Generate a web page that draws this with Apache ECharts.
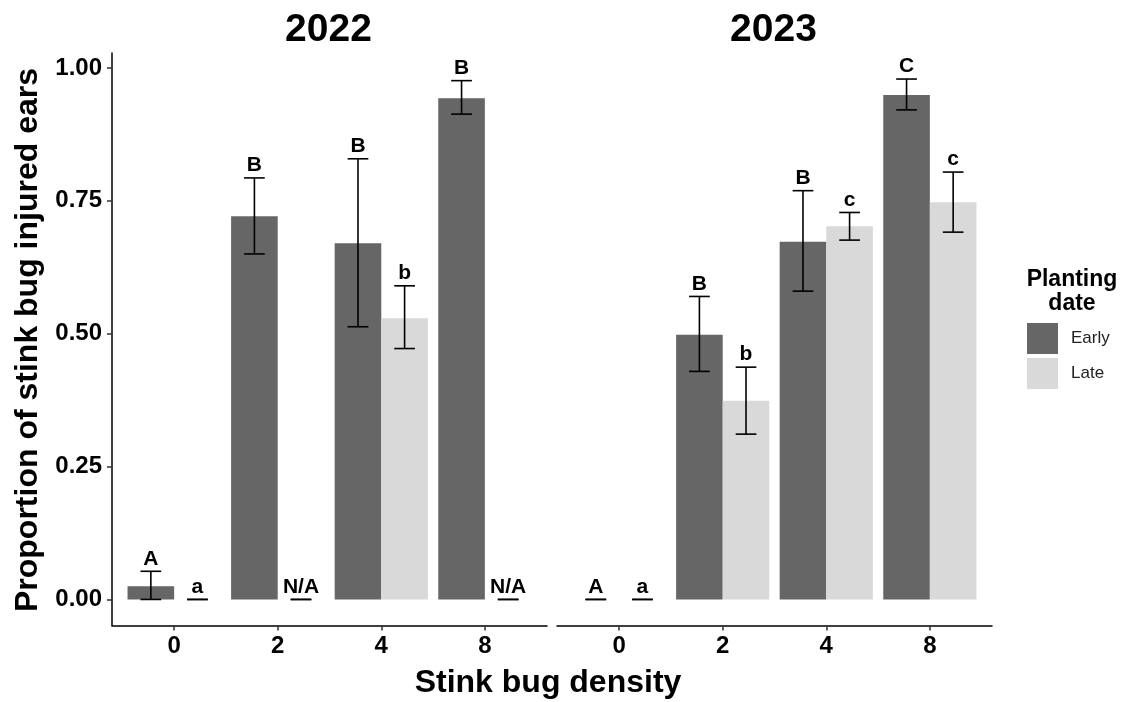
<!DOCTYPE html>
<html>
<head>
<meta charset="utf-8">
<style>
  html, body { margin: 0; padding: 0; background: #fff; }
  #chart { width: 1124px; height: 702px; }
</style>
<script src="https://cdn.jsdelivr.net/npm/echarts@6/dist/echarts.min.js"></script>
</head>
<body>
<div id="chart"></div>
<script>
// Stink bug density levels (x categories)
const densities = ['0', '2', '4', '8'];
const years = ['2022', '2023'];

// Mean proportion of injured ears, with error-bar bounds (null = not tested)
const early2022   = [0.025, 0.721, 0.670, 0.943];
const early2022Lo = [0.000, 0.650, 0.513, 0.913];
const early2022Hi = [0.053, 0.793, 0.829, 0.976];
const late2022    = [0.000, null, 0.529, null];
const late2022Lo  = [0.000, 0.000, 0.472, 0.000];
const late2022Hi  = [0.000, 0.000, 0.590, 0.000];

const early2023   = [0.000, 0.498, 0.673, 0.949];
const early2023Lo = [0.000, 0.429, 0.580, 0.921];
const early2023Hi = [0.000, 0.570, 0.769, 0.979];
const late2023    = [0.000, 0.374, 0.702, 0.747];
const late2023Lo  = [0.000, 0.311, 0.676, 0.691];
const late2023Hi  = [0.000, 0.437, 0.728, 0.804];

// Mean-separation letters
const earlyLetters2022 = ['A', 'B', 'B', 'B'];
const lateLetters2022  = ['a', 'N/A', 'b', 'N/A'];
const earlyLetters2023 = ['A', 'B', 'B', 'C'];
const lateLetters2023  = ['a', 'b', 'c', 'c'];

const yTicks = [0, 0.25, 0.5, 0.75, 1];

const EARLY_COLOR = '#666666';
const LATE_COLOR = '#d9d9d9';
const DODGE = 0.225;       // half of the dodge width, in category units
const CAP_HALF = 0.1;      // half width of error-bar caps, in category units
const FONT = '"Liberation Sans", Arial, Helvetica, sans-serif';

const panels = [
  { early: early2022, earlyLo: early2022Lo, earlyHi: early2022Hi, earlyLab: earlyLetters2022,
    late: late2022, lateLo: late2022Lo, lateHi: late2022Hi, lateLab: lateLetters2022 },
  { early: early2023, earlyLo: early2023Lo, earlyHi: early2023Hi, earlyLab: earlyLetters2023,
    late: late2023, lateLo: late2023Lo, lateHi: late2023Hi, lateLab: lateLetters2023 }
];

const gridLefts = [112, 557];
const GRID_W = 435, GRID_TOP = 53, GRID_H = 572.5;
const barPx = GRID_W / 4.2 * 0.45;

function barData(vals, shift) {
  return vals.map((v, i) => [i + shift, v]);
}

function errData(lo, hi, shift) {
  return lo.map((l, i) => [i + shift, l, hi[i]]);
}

function errorSeries(idx, data, letters) {
  return {
    type: 'custom',
    xAxisIndex: idx,
    yAxisIndex: idx,
    silent: true,
    z: 5,
    data: data,
    encode: { x: 0, y: [1, 2] },
    renderItem: function (params, api) {
      const x = api.value(0);
      const top = api.coord([x, api.value(2)]);
      const bot = api.coord([x, api.value(1)]);
      const half = api.size([CAP_HALF, 0])[0];
      const ls = { stroke: '#000', lineWidth: 1.6 };
      return {
        type: 'group',
        children: [
          { type: 'line', shape: { x1: top[0], y1: top[1], x2: bot[0], y2: bot[1] }, style: ls },
          { type: 'line', shape: { x1: top[0] - half, y1: top[1], x2: top[0] + half, y2: top[1] }, style: ls },
          { type: 'line', shape: { x1: bot[0] - half, y1: bot[1], x2: bot[0] + half, y2: bot[1] }, style: ls },
          { type: 'text', style: {
              text: letters[params.dataIndex], x: top[0], y: top[1] - 2,
              textAlign: 'center', textVerticalAlign: 'bottom',
              font: 'bold 21px ' + FONT, fill: '#000' } }
        ]
      };
    }
  };
}

const grid = [], xAxis = [], yAxis = [], series = [], panelTitles = [];

panels.forEach((p, i) => {
  grid.push({ left: gridLefts[i], top: GRID_TOP, width: GRID_W, height: GRID_H });
  xAxis.push({
    type: 'value', gridIndex: i, min: -0.6, max: 3.6,
    axisLine: { show: true, onZero: false, lineStyle: { color: '#000', width: 1.5 } },
    axisTick: { show: true, length: 5, customValues: [0, 1, 2, 3], lineStyle: { color: '#333', width: 1.5 } },
    axisLabel: {
      customValues: [0, 1, 2, 3], margin: 9,
      formatter: v => densities[Math.round(v)],
      color: '#000', fontSize: 24, fontWeight: 'bold', fontFamily: FONT
    },
    splitLine: { show: false }
  });
  yAxis.push({
    type: 'value', gridIndex: i, min: -0.049, max: 1.028, show: i === 0,
    axisLine: { show: true, onZero: false, lineStyle: { color: '#000', width: 1.5 } },
    axisTick: { show: true, length: 5, customValues: yTicks, lineStyle: { color: '#333', width: 1.5 } },
    axisLabel: {
      customValues: yTicks, margin: 10,
      formatter: v => v.toFixed(2),
      color: '#000', fontSize: 24, fontWeight: 'bold', fontFamily: FONT
    },
    splitLine: { show: false }
  });
  series.push({
    name: 'Early', type: 'bar', xAxisIndex: i, yAxisIndex: i,
    barWidth: barPx, itemStyle: { color: EARLY_COLOR },
    data: barData(p.early, -DODGE), z: 2
  });
  series.push({
    name: 'Late', type: 'bar', xAxisIndex: i, yAxisIndex: i,
    barWidth: barPx, barGap: '-100%', itemStyle: { color: LATE_COLOR },
    data: barData(p.late, DODGE), z: 2
  });
  series.push(errorSeries(i, errData(p.earlyLo, p.earlyHi, -DODGE), p.earlyLab));
  series.push(errorSeries(i, errData(p.lateLo, p.lateHi, DODGE), p.lateLab));
  // Facet strip text, centred over its panel
  panelTitles.push({
    type: 'text', x: gridLefts[i] + GRID_W / 2 - 1, y: 30,
    style: { text: years[i], font: 'bold 39px ' + FONT, fill: '#000',
             textAlign: 'center', textVerticalAlign: 'middle' }
  });
});

// Legend heading, drawn as a centred two-line text block
const legendHeading = {
  type: 'text', x: 1072, y: 268,
  style: { text: 'Planting\ndate', font: 'bold 23px ' + FONT, fill: '#000',
           textAlign: 'center', textVerticalAlign: 'top', lineHeight: 24 }
};

const chart = echarts.init(document.getElementById('chart'), null, { renderer: 'canvas' });
chart.setOption({
  animation: false,
  backgroundColor: '#fff',
  grid: grid,
  xAxis: xAxis,
  yAxis: yAxis,
  legend: {
    data: ['Early', 'Late'], orient: 'vertical', left: 1027, top: 323, padding: 0,
    icon: 'rect', itemWidth: 31, itemHeight: 31, itemGap: 4,
    selectedMode: false,
    textStyle: { fontSize: 17, color: '#222', fontFamily: FONT, padding: [0, 0, 0, 8] }
  },
  graphic: panelTitles.concat([
    legendHeading,
    { type: 'text', x: 548, y: 683,
      style: { text: 'Stink bug density', font: 'bold 32px ' + FONT, fill: '#000',
               textAlign: 'center', textVerticalAlign: 'middle' } },
    { type: 'text', rotation: Math.PI / 2, x: 12, y: 340,
      style: { text: 'Proportion of stink bug injured ears', font: 'bold 32px ' + FONT,
               fill: '#000', textAlign: 'center', textVerticalAlign: 'top' } }
  ]),
  series: series
});
</script>
</body>
</html>
